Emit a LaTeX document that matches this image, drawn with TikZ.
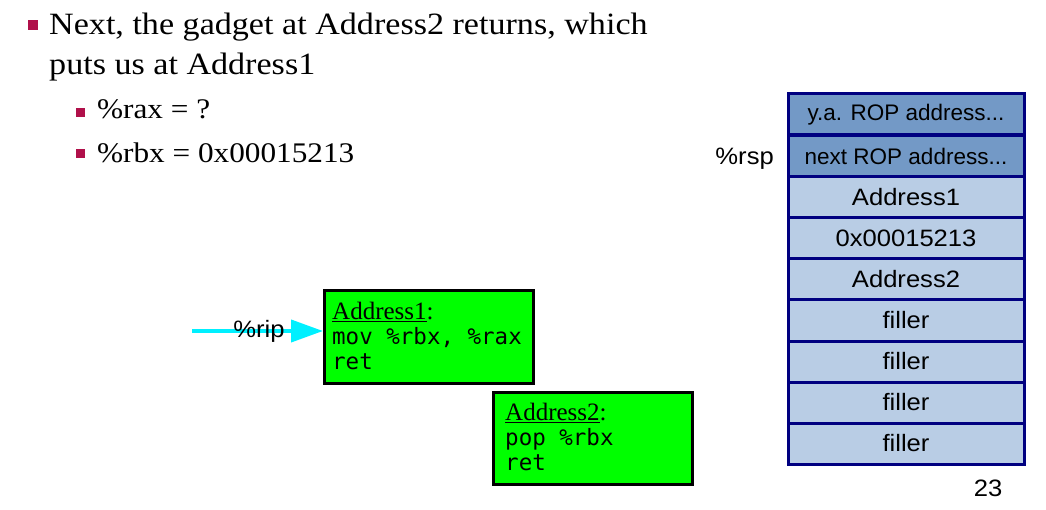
\documentclass[tikz,border=0pt]{standalone}
\usepackage{fontspec}
\setmainfont{Liberation Serif}
\setsansfont{Liberation Sans}
\setmonofont{DejaVu Sans Mono}
\newfontfamily\widserif{Liberation Serif}[FakeStretch=1.1]
\newfontfamily\widsans{Liberation Sans}[FakeStretch=1.08]
\usetikzlibrary{arrows.meta}
\definecolor{bulletred}{HTML}{B0104A}
\definecolor{navyb}{HTML}{000080}
\definecolor{darkcell}{HTML}{7399C6}
\definecolor{lightcell}{HTML}{B9CDE5}
\definecolor{gadgetgreen}{HTML}{00FF00}
\definecolor{ripcyan}{HTML}{00F0FF}
\tikzset{
  bul/.style={fill=bulletred, minimum size=#1, inner sep=0pt},
  titletext/.style={anchor=base west, inner sep=0pt, font=\widserif\fontsize{31}{36}\selectfont},
  subtext/.style={anchor=base west, inner sep=0pt, font=\widserif\fontsize{28.4}{32}\selectfont},
  cell/.style={draw=navyb, line width=3pt, fill=lightcell, minimum width=236pt, minimum height=41pt, inner sep=0pt, font=\widsans\fontsize{23.7}{27}\selectfont},
  topcell/.style={cell, fill=darkcell, font=\sffamily\fontsize{22.5}{26}\selectfont},
  gadget/.style={draw=black, line width=3pt, fill=gadgetgreen, anchor=north west, inner sep=0pt},
  gadgettext/.style={anchor=north west, inner sep=0pt, align=left, font=\ttfamily\fontsize{22.5}{25}\selectfont},
  sflabel/.style={font=\widsans\fontsize{23.7}{27}\selectfont, inner sep=0pt},
}
\newcommand{\ghead}[1]{{\rmfamily\fontsize{25}{25}\selectfont\underline{#1}:}}
\begin{document}
\begin{tikzpicture}[x=1pt, y=-1pt]
\useasboundingbox (0,0) rectangle (1046,510);
% bullets and text
\node[bul=10pt] (b0) at (32.5,25.5) {};
\node[titletext] (t1) at (49,35) {Next, the gadget at Address2 returns, which};
\node[titletext] (t2) at (49,75) {puts us at Address1};
\node[bul=9.5pt] (b1) at (80.5,112.5) {};
\node[subtext] (s1) at (97,119) {\%rax = ?};
\node[bul=9.5pt] (b2) at (80.5,153.5) {};
\node[subtext] (s2) at (97,163) {\%rbx = 0x00015213};
% stack
\node[topcell] (c0) at (906,114.5) {y.a. ROP address...};
\node[topcell] (c1) at (906,156.5) {next ROP address...};
\node[cell] (c2) at (906,197.5) {Address1};
\node[cell] (c3) at (906,238.5) {0x00015213};
\node[cell] (c4) at (906,279.5) {Address2};
\node[cell] (c5) at (906,320.5) {filler};
\node[cell] (c6) at (906,361.5) {filler};
\node[cell] (c7) at (906,402.5) {filler};
\node[cell] (c8) at (906,443.5) {filler};
\node[sflabel, anchor=base east] (rsp) at (774,165) {\%rsp};
\node[sflabel, anchor=base] (pg) at (988,496) {23};
% gadgets
\node[gadget, minimum width=209pt, minimum height=93pt] (g1) at (323,289) {};
\node[gadgettext] (g1t) at (332,302) {%
  \ghead{Address1}\\
  mov \%rbx, \%rax\\
  ret};
\node[gadget, minimum width=199pt, minimum height=92pt] (g2) at (492,391) {};
\node[gadgettext] (g2t) at (505,403) {%
  \ghead{Address2}\\
  pop \%rbx\\
  ret};
% rip arrow
\coordinate (ripstart) at (192,331);
\draw[ripcyan, line width=4pt, -{Triangle[length=32pt, width=22pt]}] (ripstart) -- (g1.west |- ripstart);
\node[sflabel] (rip) at (259,331) {\%rip};
\end{tikzpicture}
\end{document}
